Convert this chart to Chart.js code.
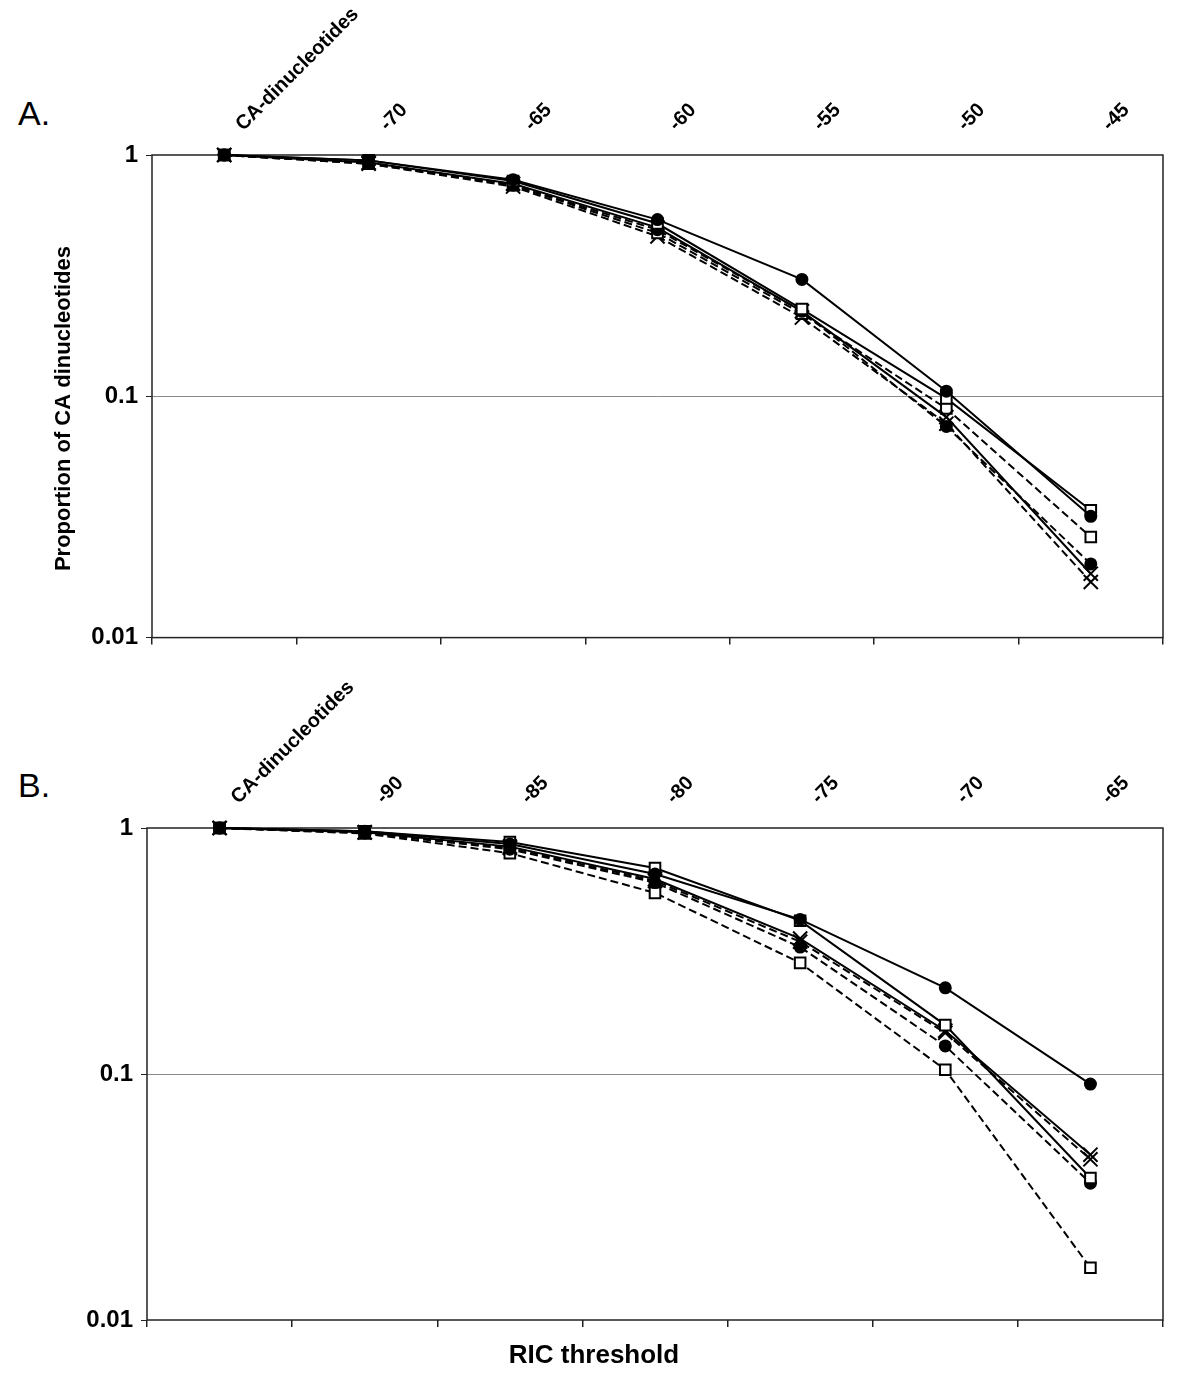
<!DOCTYPE html>
<html>
<head>
<meta charset="utf-8">
<script src="https://cdn.jsdelivr.net/npm/chart.js@4.4.1/dist/chart.umd.min.js"></script>
<style>
  body { margin: 0; background: #fff; font-family: "Liberation Sans", Arial, sans-serif; }
  #page { position: relative; width: 1200px; height: 1392px; overflow: hidden; }
  canvas { position: absolute; left: 0; }
  .tag { position: absolute; left: 18px; font-size: 34px; line-height: 1; color: #000; }
  #xtitle { position: absolute; left: 444px; width: 300px; top: 1341px; text-align: center;
            font-size: 26px; font-weight: bold; line-height: 1; color: #000; }
</style>
</head>
<body>
<div id="page">
  <div class="tag" style="top:96px">A.</div>
  <canvas id="chartA" width="1200" height="660" style="top:0"></canvas>
  <div class="tag" style="top:768px">B.</div>
  <canvas id="chartB" width="1200" height="732" style="top:660px"></canvas>
  <div id="xtitle">RIC threshold</div>
</div>
<script>
const FONT = '"Liberation Sans", Arial, sans-serif';

// categories on the top axis
const categoriesA = ['CA-dinucleotides', '-70', '-65', '-60', '-55', '-50', '-45'];
const categoriesB = ['CA-dinucleotides', '-90', '-85', '-80', '-75', '-70', '-65'];
const yTickValues = [0.01, 0.1, 1];
const yTickLabels = ['0.01', '0.1', '1'];

// panel A
const aSolidCircle = [1, 0.95, 0.79, 0.54, 0.305, 0.105, 0.0318];
const aSolidSquare = [1, 0.95, 0.78, 0.52, 0.23, 0.098, 0.0337];
const aSolidCross  = [1, 0.93, 0.76, 0.50, 0.225, 0.082, 0.0184];
const aDashCircle  = [1, 0.93, 0.75, 0.49, 0.225, 0.075, 0.0202];
const aDashSquare  = [1, 0.92, 0.75, 0.475, 0.22, 0.089, 0.0261];
const aDashCross   = [1, 0.92, 0.74, 0.46, 0.212, 0.077, 0.0170];

// panel B
const bSolidCircle = [1, 0.97, 0.86, 0.65, 0.425, 0.224, 0.091];
const bSolidSquare = [1, 0.97, 0.877, 0.688, 0.42, 0.158, 0.0378];
const bSolidCross  = [1, 0.96, 0.84, 0.62, 0.355, 0.150, 0.047];
const bDashCross   = [1, 0.96, 0.83, 0.61, 0.345, 0.147, 0.045];
const bDashCircle  = [1, 0.955, 0.82, 0.60, 0.328, 0.130, 0.036];
const bDashSquare  = [1, 0.95, 0.79, 0.545, 0.283, 0.104, 0.0163];

function series(label, data, style, dashed) {
  let radius = 10;
  if (style === 'circle') radius = 5.5;
  if (style === 'rect') radius = 7.5;
  return {
    label: label,
    data: data,
    xAxisID: 'x',
    borderColor: '#000',
    borderWidth: 2,
    borderDash: dashed ? [8, 4] : [],
    pointStyle: style,
    pointRadius: radius,
    pointBackgroundColor: style === 'circle' ? '#000' : '#fff',
    pointBorderColor: '#000',
    pointBorderWidth: 2,
    fill: false,
    tension: 0,
    clip: false
  };
}

// plot box
const framePlugin = {
  id: 'frame',
  beforeDatasetsDraw(chart) {
    const ctx = chart.ctx, a = chart.chartArea;
    ctx.save();
    ctx.strokeStyle = '#222';
    ctx.lineWidth = 1.5;
    ctx.strokeRect(a.left, a.top, a.right - a.left, a.bottom - a.top);
    ctx.restore();
  }
};

function makeChart(id, labels, datasets, cfg) {
  return new Chart(document.getElementById(id), {
    type: 'line',
    data: { labels: labels, datasets: datasets },
    options: {
      responsive: false,
      animation: false,
      layout: { padding: { left: 0, right: 37, top: 0, bottom: 0 } },
      plugins: { legend: { display: false }, tooltip: { enabled: false } },
      scales: {
        x: {
          type: 'category',
          position: 'top',
          offset: true,
          grid: { display: false },
          border: { display: false },
          ticks: {
            autoSkip: false, minRotation: 45, maxRotation: 45,
            padding: 11, labelOffset: 32, color: '#000',
            font: { family: FONT, weight: 'bold', size: 20 }
          },
          afterFit: function(s) { s.height = cfg.topH; }
        },
        x2: {
          type: 'category',
          position: 'bottom',
          offset: true,
          grid: { offset: true, drawOnChartArea: false, tickLength: 7, color: '#222', lineWidth: 1.5 },
          border: { display: false },
          ticks: { display: false },
          afterFit: function(s) { s.height = cfg.bottomH; }
        },
        y: {
          type: 'logarithmic',
          position: 'left',
          min: 0.01,
          max: 1,
          afterBuildTicks: function(s) {
            s.ticks = yTickValues.map(function(v) { return { value: v }; });
          },
          ticks: {
            padding: 8, color: '#000',
            font: { family: FONT, weight: 'bold', size: 24 },
            callback: function(value, index) { return yTickLabels[index]; }
          },
          grid: {
            color: function(c) { return c.tick && c.tick.value === 0.1 ? '#8a8a8a' : 'rgba(0,0,0,0)'; },
            tickColor: '#222',
            tickLength: 6,
            lineWidth: 1
          },
          border: { display: false },
          title: cfg.yTitle,
          afterFit: function(s) { s.width = cfg.leftW; }
        }
      }
    },
    plugins: [framePlugin]
  });
}

makeChart('chartA', categoriesA, [
  series('solid circle', aSolidCircle, 'circle', false),
  series('solid square', aSolidSquare, 'rect', false),
  series('solid cross', aSolidCross, 'crossRot', false),
  series('dashed circle', aDashCircle, 'circle', true),
  series('dashed square', aDashSquare, 'rect', true),
  series('dashed cross', aDashCross, 'crossRot', true)
], {
  topH: 155, bottomH: 20, leftW: 152,
  yTitle: {
    display: true,
    // trailing spaces nudge the centred title a little lower, as in the original
    text: 'Proportion of CA dinucleotides    ',
    color: '#000',
    font: { family: FONT, weight: 'bold', size: 22 },
    padding: { top: 51, bottom: 0 }
  }
});

makeChart('chartB', categoriesB, [
  series('solid circle', bSolidCircle, 'circle', false),
  series('solid square', bSolidSquare, 'rect', false),
  series('solid cross', bSolidCross, 'crossRot', false),
  series('dashed cross', bDashCross, 'crossRot', true),
  series('dashed circle', bDashCircle, 'circle', true),
  series('dashed square', bDashSquare, 'rect', true)
], {
  topH: 168, bottomH: 72, leftW: 147,
  yTitle: { display: false }
});
</script>
</body>
</html>
